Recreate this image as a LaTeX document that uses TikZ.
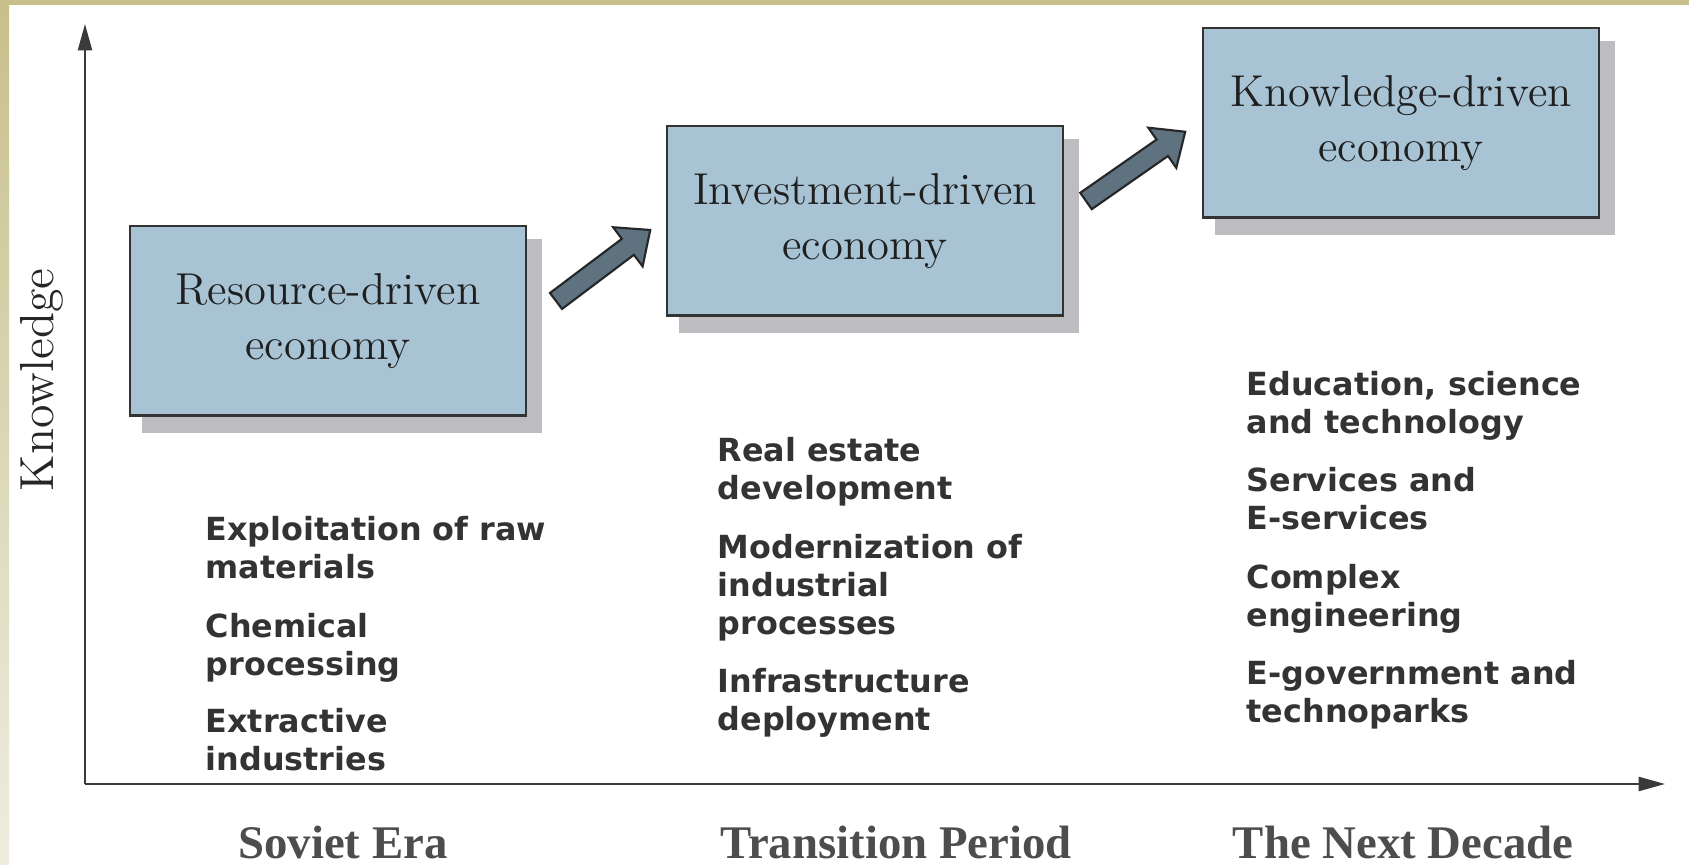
\documentclass[tikz,border=0pt]{standalone}
\usepackage{fontspec}
\newfontfamily\listfont{DejaVu Sans}
\newfontfamily\erafont{Liberation Serif}
\usetikzlibrary{arrows.meta,calc}

\definecolor{khaki}{HTML}{C7C08B}
\definecolor{paleband}{HTML}{EEEDE0}
\definecolor{boxfill}{HTML}{A7C3D4}
\definecolor{boxline}{HTML}{333333}
\definecolor{shadowgray}{HTML}{BDBDC1}
\definecolor{arrowfill}{HTML}{5E727F}
\definecolor{listtext}{HTML}{333333}
\definecolor{eratext}{HTML}{4D4D4D}
\definecolor{axisgray}{HTML}{3A3A3A}

% block arrow: tail point, angle, length
\newcommand\growtharrow[3]{%
  \begin{scope}[shift={(#1)}, rotate=#2]
    \draw[blockarrow] (0,-10) -- ({#3-28},-10) -- ({#3-28},-24.5) -- (#3,0)
      -- ({#3-28},24.5) -- ({#3-28},10) -- (0,10) -- cycle;
  \end{scope}}

\begin{document}
\begin{tikzpicture}[x=0.01cm,y=-0.01cm,
  ecobox/.style={draw=boxline, line width=0.6pt, fill=boxfill,
    minimum width=3.96cm, minimum height=1.89cm, inner sep=0pt,
    align=center, text=black!88, font=\fontsize{12.7}{15.6}\selectfont},
  boxshadow/.style={fill=shadowgray, minimum width=3.99cm,
    minimum height=1.93cm, inner sep=0pt},
  % the base anchor of a multi-line item sits on its last line
  item/.style={anchor=base west, inner sep=0pt, align=left, text=listtext,
    font=\listfont\bfseries\fontsize{9.05}{10.9}\selectfont},
  era/.style={anchor=base, inner sep=0pt, text=eratext,
    font=\erafont\bfseries\fontsize{13.3}{16}\selectfont},
  axis/.style={draw=axisgray, line width=0.6pt,
    -{Triangle[length=7.5pt,width=4pt]}},
  blockarrow/.style={fill=arrowfill, draw=black!85, line width=0.6pt,
    line join=miter}
]
\useasboundingbox (0,0) rectangle (1689,865);

% page frame
\fill[white] (0,0) rectangle (1689,865);
\shade[top color=khaki, bottom color=paleband] (0,0) rectangle (9,865);
\fill[khaki] (0,0) rectangle (1689,5);

% axes
\coordinate (origin) at (85,784);
\coordinate (ytip) at (85,24);
\coordinate (xtip) at (1665,784);
\draw[axis] (origin) -- (ytip);
\draw[axis] (origin) -- (xtip);
\node[rotate=90, anchor=base, inner sep=0pt, text=black!85,
  font=\fontsize{13.6}{15}\selectfont] (ylabel) at (53,380) {Knowledge};

% economy stages
\coordinate (c1) at (328,321);
\coordinate (c2) at (865,221);
\coordinate (c3) at (1401,123);
\node[boxshadow] (s1) at ($(c1)+(14,15)$) {};
\node[boxshadow] (s2) at ($(c2)+(14,15)$) {};
\node[boxshadow] (s3) at ($(c3)+(14,15)$) {};
\node[ecobox] (resource) at (c1) {Resource-driven\\economy};
\node[ecobox] (investment) at (c2) {Investment-driven\\economy};
\node[ecobox] (knowledge) at (c3) {Knowledge-driven\\economy};

% transitions
\coordinate (a1s) at (556,301);
\coordinate (a2s) at (1086,201);
\growtharrow{a1s}{37}{118}
\growtharrow{a2s}{34.9}{121}

% sectors of the Soviet era
\node[item] (r1) at (205,579) {Exploitation of raw\\materials};
\node[item] (r2) at (205,676) {Chemical\\processing};
\node[item] (r3) at (205,771) {Extractive\\industries};

% sectors of the transition period
\node[item] (t1) at (717,500) {Real estate\\development};
\node[item] (t2) at (717,635) {Modernization of\\industrial\\processes};
\node[item] (t3) at (717,731) {Infrastructure\\deployment};

% sectors of the next decade
\node[item] (n1) at (1246,434) {Education, science\\and technology};
\node[item] (n2) at (1246,530) {Services and\\E-services};
\node[item] (n3) at (1246,627) {Complex\\engineering};
\node[item] (n4) at (1246,723) {E-government and\\technoparks};

% periods
\node[era] (soviet) at (343,858) {Soviet Era};
\node[era] (transition) at (896,858) {Transition Period};
\node[era] (decade) at (1403,858) {The Next Decade};
\end{tikzpicture}
\end{document}
